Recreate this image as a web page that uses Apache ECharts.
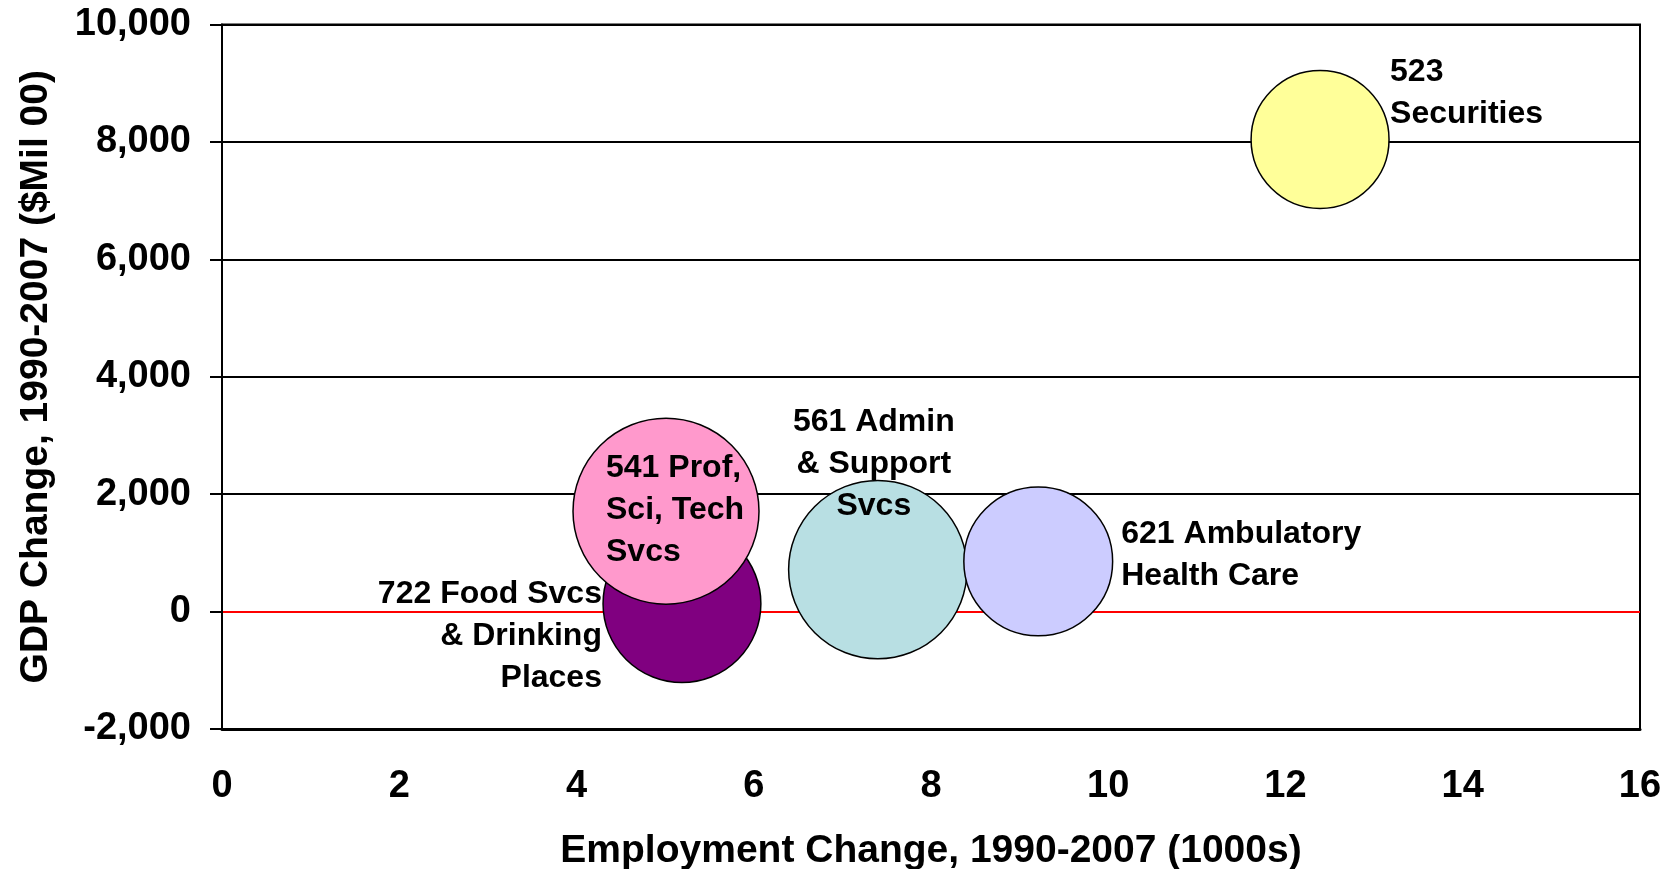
<!DOCTYPE html>
<html><head><meta charset="utf-8">
<script src="https://cdn.jsdelivr.net/npm/echarts@6/dist/echarts.min.js"></script>
<style>html,body{margin:0;padding:0;background:#fff}#c{width:1673px;height:869px}</style>
</head><body><div id="c"></div>
<script>
// ---- data ----
const industries = ['722 Food Svcs\n& Drinking\nPlaces', '541 Prof,\nSci, Tech\nSvcs', '561 Admin\n& Support\nSvcs', '621 Ambulatory\nHealth Care', '523\nSecurities'];
const employmentChange = [5.19, 5.01, 7.40, 9.21, 12.39];
const gdpChange = [135, 1710, 715, 855, 8040];
const bubbleSize = [72, 100, 92, 64, 55];
const xTickValues = [0, 2, 4, 6, 8, 10, 12, 14, 16];
const xTickLabels = ['0', '2', '4', '6', '8', '10', '12', '14', '16'];
const yTickValues = [-2000, 0, 2000, 4000, 6000, 8000, 10000];
const yTickLabels = ['-2,000', '0', '2,000', '4,000', '6,000', '8,000', '10,000'];
const xTitle = 'Employment Change, 1990-2007 (1000s)';
const yTitle = 'GDP Change, 1990-2007 ($Mil 00)';

// ---- styles ----
const colors = ['#800080', '#FF99CC', '#B8DFE3', '#CCCCFF', '#FFFF99'];
const labelStyle = [
  {align: 'right', offset: [-80, 33]},
  {align: 'left', offset: [-60, -1]},
  {align: 'center', offset: [-4, -105]},
  {align: 'left', offset: [83, -6]},
  {align: 'left', offset: [70, -46]}
];
const MAX_DIAM = 186;
const FONT = "'Liberation Sans', Arial, Helvetica, sans-serif";

const chart = echarts.init(document.getElementById('c'), null, {renderer: 'canvas'});
const series = industries.map((name, i) => ({
  type: 'scatter',
  name: name,
  data: [[employmentChange[i], gdpChange[i], bubbleSize[i]]],
  symbol: 'circle',
  symbolSize: d => MAX_DIAM * Math.sqrt(d[2] / Math.max(...bubbleSize)),
  itemStyle: {color: colors[i], borderColor: '#000', borderWidth: 1.5, opacity: 1},
  label: {
    show: true, position: 'inside', formatter: name,
    align: labelStyle[i].align, verticalAlign: 'middle', offset: labelStyle[i].offset,
    color: '#000', fontFamily: FONT, fontWeight: 'bold', fontSize: 32, lineHeight: 42
  },
  emphasis: {disabled: true},
  silent: true,
  z: 2 + i
}));

chart.setOption({
  animation: false,
  backgroundColor: '#fff',
  grid: {left: 222, right: 33, top: 24.5, bottom: 140, containLabel: false, outerBoundsMode: 'none',
         show: true, borderColor: '#000', borderWidth: 2, backgroundColor: 'transparent'},
  xAxis: {
    type: 'value', min: xTickValues[0], max: xTickValues[xTickValues.length - 1], interval: 2,
    axisLine: {show: true, onZero: false, lineStyle: {color: '#000', width: 3}},
    axisTick: {show: false},
    splitLine: {show: false},
    axisLabel: {margin: 39, color: '#000', fontFamily: FONT, fontWeight: 'bold', fontSize: 38,
                formatter: v => xTickLabels[xTickValues.indexOf(v)]},
    name: xTitle, nameLocation: 'middle', nameGap: 103,
    nameTextStyle: {color: '#000', fontFamily: FONT, fontWeight: 'bold', fontSize: 39}
  },
  yAxis: {
    type: 'value', min: yTickValues[0], max: yTickValues[yTickValues.length - 1], interval: 2000,
    axisLine: {show: true, onZero: false, lineStyle: {color: '#000', width: 2}},
    axisTick: {show: true, inside: false, length: 12, lineStyle: {color: '#000', width: 2}},
    splitLine: {show: true, lineStyle: {color: ['#000', '#FF0000', '#000', '#000', '#000', '#000', '#000'], width: 2}},
    axisLabel: {margin: 31, color: '#000', fontFamily: FONT, fontWeight: 'bold', fontSize: 38,
                padding: [5, 0, 0, 0],
                formatter: v => yTickLabels[yTickValues.indexOf(v)]},
    name: yTitle, nameLocation: 'middle', nameGap: 166,
    nameTextStyle: {color: '#000', fontFamily: FONT, fontWeight: 'bold', fontSize: 39}
  },
  series: series
});
</script></body></html>
